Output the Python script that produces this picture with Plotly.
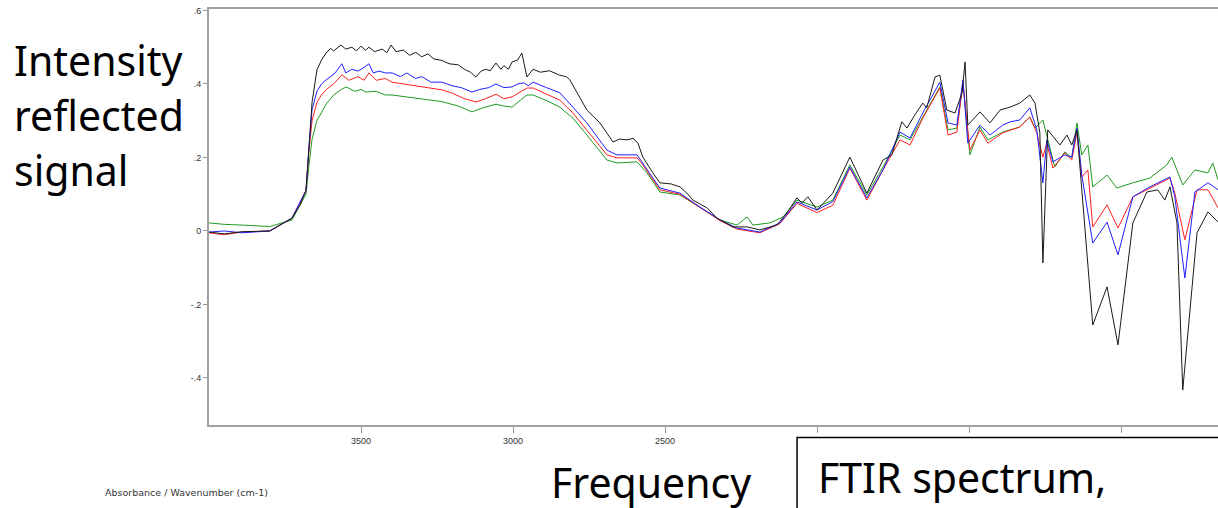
import plotly.graph_objects as go

# ---- data (wavenumber cm-1, absorbance) ----
black_wn = [4000, 3950, 3891, 3800, 3727, 3701, 3681, 3671, 3661, 3645, 3630, 3615, 3600, 3590, 3566, 3550, 3530,
            3515, 3500, 3485, 3474, 3455, 3430, 3415, 3401, 3385, 3360, 3340, 3320, 3300, 3280, 3260, 3234, 3210,
            3180, 3160, 3140, 3122, 3105, 3090, 3075, 3056, 3040, 3030, 3015, 3003, 2985, 2971, 2954, 2934, 2910,
            2880, 2850, 2823, 2813, 2757, 2714, 2671, 2650, 2625, 2605, 2589, 2573, 2540, 2517, 2480, 2451, 2428,
            2408, 2362, 2329, 2277, 2230, 2188, 2132, 2099, 2066, 2050, 2030, 2000, 1948, 1892, 1836, 1783, 1754,
            1721, 1704, 1678, 1652, 1639, 1612, 1596, 1573, 1546, 1523, 1513, 1504, 1464, 1431, 1398, 1365, 1333,
            1300, 1283, 1267, 1257, 1241, 1201, 1178, 1162, 1145, 1129, 1093, 1046, 1010, 961, 915, 879, 856, 839,
            816, 797, 750, 714, 681]
black_ab = [-0.003, -0.008, -0.002, 0.000, 0.035, 0.070, 0.110, 0.230, 0.350, 0.438, 0.465, 0.484, 0.497, 0.490,
            0.506, 0.495, 0.500, 0.490, 0.503, 0.492, 0.500, 0.488, 0.495, 0.485, 0.506, 0.488, 0.492, 0.478, 0.486,
            0.474, 0.482, 0.468, 0.464, 0.455, 0.452, 0.440, 0.432, 0.419, 0.435, 0.440, 0.436, 0.457, 0.440, 0.450,
            0.440, 0.460, 0.465, 0.484, 0.419, 0.440, 0.432, 0.436, 0.425, 0.419, 0.411, 0.329, 0.294, 0.242, 0.250,
            0.248, 0.252, 0.239, 0.201, 0.158, 0.131, 0.128, 0.120, 0.103, 0.084, 0.063, 0.035, 0.011, 0.011, 0.003,
            0.016, 0.049, 0.090, 0.076, 0.093, 0.057, 0.103, 0.201, 0.103, 0.193, 0.207, 0.297, 0.280, 0.316, 0.348,
            0.335, 0.419, 0.424, 0.329, 0.321, 0.376, 0.460, 0.288, 0.324, 0.294, 0.329, 0.337, 0.348, 0.370, 0.348,
            0.267, -0.087, 0.275, 0.234, 0.261, 0.234, 0.275, 0.112, -0.256, -0.152, -0.310, 0.022, 0.106, 0.112,
            0.084, 0.120, 0.022, -0.433, -0.005, 0.052, 0.024]

blue_wn = [4000, 3950, 3891, 3800, 3727, 3681, 3671, 3661, 3645, 3630, 3615, 3600, 3585, 3563, 3550, 3530, 3510,
           3490, 3474, 3460, 3440, 3420, 3398, 3370, 3350, 3320, 3300, 3270, 3234, 3200, 3170, 3135, 3110, 3080,
           3056, 3030, 3003, 2985, 2964, 2950, 2934, 2890, 2846, 2803, 2757, 2691, 2658, 2592, 2573, 2517, 2451,
           2385, 2319, 2263, 2188, 2122, 2066, 2000, 1948, 1892, 1836, 1783, 1727, 1694, 1652, 1596, 1569, 1540,
           1520, 1504, 1464, 1431, 1389, 1365, 1333, 1300, 1277, 1257, 1244, 1224, 1185, 1162, 1145, 1129, 1093,
           1046, 1010, 961, 905, 839, 823, 790, 757, 714, 681]
blue_ab = [-0.003, 0.000, -0.005, 0.000, 0.035, 0.110, 0.230, 0.330, 0.380, 0.400, 0.411, 0.420, 0.430, 0.455,
           0.430, 0.440, 0.435, 0.445, 0.455, 0.430, 0.435, 0.430, 0.430, 0.420, 0.430, 0.415, 0.420, 0.405, 0.405,
           0.395, 0.390, 0.378, 0.385, 0.390, 0.400, 0.390, 0.392, 0.400, 0.403, 0.395, 0.405, 0.390, 0.376, 0.337,
           0.294, 0.220, 0.207, 0.207, 0.185, 0.117, 0.103, 0.065, 0.030, 0.008, -0.003, 0.022, 0.079, 0.057, 0.080,
           0.174, 0.090, 0.166, 0.269, 0.253, 0.321, 0.405, 0.294, 0.288, 0.411, 0.239, 0.288, 0.261, 0.288, 0.297,
           0.302, 0.335, 0.275, 0.131, 0.248, 0.188, 0.207, 0.201, 0.280, 0.152, -0.033, 0.024, -0.065, 0.093,
           0.120, 0.147, 0.093, -0.128, 0.106, 0.131, 0.112]

red_wn = [4000, 3950, 3891, 3800, 3727, 3681, 3671, 3661, 3645, 3630, 3615, 3590, 3563, 3540, 3510, 3490, 3474,
          3450, 3420, 3398, 3360, 3320, 3280, 3234, 3200, 3160, 3122, 3090, 3056, 3030, 3003, 2970, 2954, 2934,
          2890, 2846, 2803, 2757, 2691, 2658, 2592, 2573, 2517, 2451, 2385, 2319, 2263, 2188, 2122, 2066, 2000,
          1948, 1892, 1836, 1783, 1727, 1694, 1652, 1596, 1569, 1540, 1520, 1497, 1464, 1438, 1389, 1333, 1300,
          1277, 1257, 1244, 1224, 1185, 1162, 1145, 1129, 1109, 1093, 1046, 1010, 961, 905, 839, 823, 790, 750,
          714, 681]
red_ab = [-0.005, -0.010, -0.003, 0.000, 0.035, 0.110, 0.220, 0.300, 0.350, 0.370, 0.384, 0.400, 0.425, 0.410,
          0.420, 0.410, 0.430, 0.410, 0.415, 0.405, 0.400, 0.395, 0.390, 0.384, 0.375, 0.360, 0.351, 0.360, 0.372,
          0.360, 0.365, 0.380, 0.389, 0.389, 0.372, 0.356, 0.321, 0.275, 0.207, 0.199, 0.199, 0.180, 0.112, 0.100,
          0.063, 0.028, 0.005, -0.005, 0.020, 0.075, 0.050, 0.070, 0.171, 0.084, 0.166, 0.248, 0.234, 0.307, 0.389,
          0.261, 0.269, 0.403, 0.220, 0.275, 0.239, 0.267, 0.283, 0.310, 0.267, 0.201, 0.239, 0.171, 0.212, 0.193,
          0.267, 0.147, 0.166, 0.011, 0.071, 0.008, 0.093, 0.117, 0.144, 0.103, -0.024, 0.112, 0.112, 0.063]

green_wn = [4000, 3950, 3891, 3800, 3727, 3681, 3671, 3661, 3645, 3615, 3590, 3565, 3549, 3520, 3500, 3484, 3450,
            3420, 3398, 3350, 3300, 3234, 3180, 3135, 3100, 3056, 3030, 3003, 2970, 2954, 2934, 2890, 2846, 2803,
            2757, 2691, 2658, 2592, 2559, 2517, 2451, 2385, 2319, 2263, 2230, 2211, 2155, 2112, 2066, 2000, 1948,
            1892, 1836, 1783, 1727, 1694, 1652, 1596, 1569, 1540, 1520, 1497, 1464, 1438, 1389, 1333, 1300, 1283,
            1257, 1241, 1218, 1185, 1162, 1145, 1129, 1109, 1093, 1046, 1014, 961, 905, 849, 833, 797, 757, 714,
            698, 681]
green_ab = [0.022, 0.018, 0.016, 0.012, 0.030, 0.100, 0.180, 0.250, 0.300, 0.345, 0.370, 0.385, 0.392, 0.380,
            0.385, 0.378, 0.380, 0.370, 0.370, 0.365, 0.360, 0.352, 0.340, 0.324, 0.335, 0.345, 0.340, 0.337, 0.360,
            0.370, 0.370, 0.355, 0.337, 0.307, 0.261, 0.193, 0.185, 0.188, 0.158, 0.106, 0.098, 0.065, 0.030, 0.016,
            0.038, 0.016, 0.022, 0.038, 0.084, 0.065, 0.084, 0.180, 0.098, 0.174, 0.261, 0.248, 0.310, 0.392, 0.275,
            0.280, 0.403, 0.207, 0.283, 0.248, 0.269, 0.283, 0.310, 0.280, 0.302, 0.248, 0.174, 0.215, 0.199, 0.294,
            0.207, 0.234, 0.120, 0.152, 0.117, 0.131, 0.144, 0.180, 0.201, 0.125, 0.166, 0.158, 0.185, 0.139]

x_ticks = [3500, 3000, 2500, 2000, 1500, 1000]
y_ticks = [0.6, 0.4, 0.2, 0.0, -0.2, -0.4]
y_tick_text = [".6", ".4", ".2", "0", "-.2", "-.4"]

fig = go.Figure()
for wn, ab, col in [(green_wn, green_ab, "#1f9a1f"), (red_wn, red_ab, "#ff2020"),
                    (blue_wn, blue_ab, "#2020ff"), (black_wn, black_ab, "#1a1a1a")]:
    fig.add_trace(go.Scatter(x=wn, y=ab, mode="lines", line=dict(color=col, width=1), showlegend=False,
                             hoverinfo="skip"))

axis_font = dict(family="Liberation Sans, Arial, sans-serif", size=9, color="#333333")
fig.update_layout(
    width=1218, height=508,
    margin=dict(l=209, r=0, t=9, b=83),
    plot_bgcolor="white", paper_bgcolor="white",
    xaxis=dict(range=[4000, 681], tickvals=x_ticks, ticks="outside", ticklen=6, tickcolor="#999999",
               showgrid=False, zeroline=False, showline=True, linecolor="#a0a0a0", linewidth=2, mirror=True,
               tickfont=axis_font, ticklabeloverflow="allow"),
    yaxis=dict(range=[-0.528, 0.604], tickvals=y_ticks, ticktext=y_tick_text, ticks="outside", ticklen=4,
               tickcolor="#999999", showgrid=False, zeroline=False, showline=True, linecolor="#a0a0a0",
               linewidth=2, tickfont=axis_font, ticklabeloverflow="allow"),
    shapes=[dict(type="rect", xref="paper", yref="paper", x0=0.5828, x1=1.2, y0=-0.030, y1=-0.4,
                 line=dict(color="black", width=1.5), fillcolor="white", layer="above")],
)

big = dict(family="Noto Sans, sans-serif", size=41, color="black")
for txt, yy in [("Intensity", 0.949), ("reflected", 0.817), ("signal", 0.685)]:
    fig.add_annotation(text=txt, xref="paper", yref="paper", x=-0.195, y=yy, xanchor="left", yanchor="top",
                       showarrow=False, font=big)
fig.add_annotation(text="Frequency", xref="paper", yref="paper", x=0.337, y=-0.065, xanchor="left",
                   yanchor="top", showarrow=False, font=big)
fig.add_annotation(text="FTIR spectrum,", xref="paper", yref="paper", x=0.6016, y=-0.053, xanchor="left",
                   yanchor="top", showarrow=False, font=big)
fig.add_annotation(text="Absorbance / Wavenumber (cm-1)", xref="paper", yref="paper", x=-0.105, y=-0.163,
                   xanchor="left", yanchor="middle", showarrow=False,
                   font=dict(family="DejaVu Sans, sans-serif", size=9.5, color="#333333"))

fig.write_html("out.html", config={"displayModeBar": False},
               post_script="document.body.style.margin='0';document.body.style.overflow='hidden';")
